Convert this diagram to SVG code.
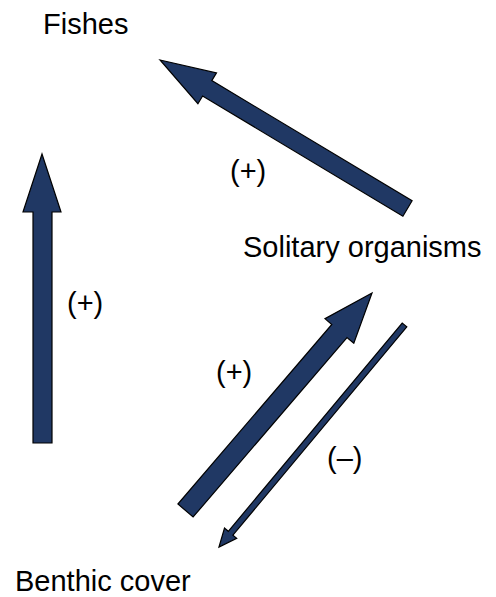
<svg xmlns="http://www.w3.org/2000/svg" width="496" height="597" viewBox="0 0 496 597">
<style>
.arrow{fill:#203864;stroke:#000;stroke-width:1.2;stroke-linejoin:miter}
.lbl{font-family:"Liberation Sans",Arial,Helvetica,sans-serif;font-size:29px;fill:#000}
</style>
<rect width="496" height="597" fill="#fff"/>
<g id="fishes"><text class="lbl" x="43" y="34">Fishes</text></g>
<g id="solitary"><text class="lbl" x="243" y="257">Solitary organisms</text></g>
<g id="benthic"><text class="lbl" x="15" y="591">Benthic cover</text></g>
<g id="connectors">
  <polygon class="arrow" points="160,60 216.5,72.9 211.8,80.6 412.1,200.8 402.9,216.2 202.6,96 197.9,103.7"/>
  <polygon class="arrow" points="42,154 61,212 52,212 52,443 33,443 33,212 23,212"/>
  <polygon class="arrow" points="372,293 353.8,343.3 347,337.5 193.1,517 177.9,504 331.8,324.5 325,318.6"/>
  <polygon class="arrow" points="219,547 224.5,528.1 228.3,531.3 402.2,323.1 406.8,326.9 232.9,535.1 236.7,538.3"/>
  <text class="lbl" x="230" y="181">(+)</text>
  <text class="lbl" x="67" y="313">(+)</text>
  <text class="lbl" x="216" y="382">(+)</text>
  <text class="lbl" x="327" y="468">(–)</text>
</g>
</svg>
